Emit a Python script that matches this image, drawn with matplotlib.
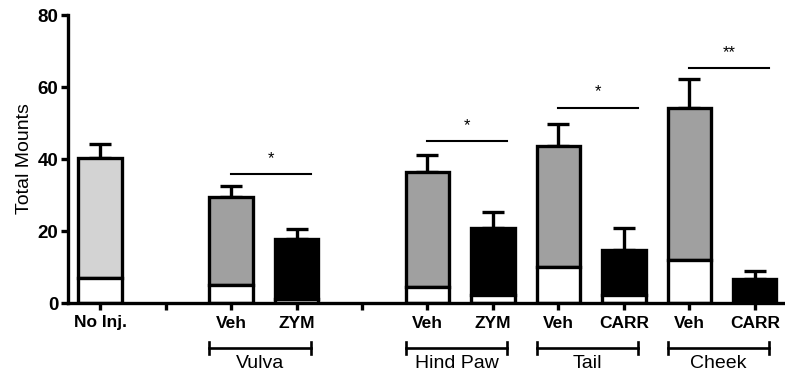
import matplotlib
matplotlib.use("Agg")
import matplotlib.pyplot as plt

plt.rcParams['font.family'] = ['Liberation Sans', 'DejaVu Sans']

# Data
tick_labels = ["No Inj.", "", "Veh", "ZYM", "", "Veh", "ZYM", "Veh", "CARR", "Veh", "CARR"]
bar_slots = [0, 2, 3, 5, 6, 7, 8, 9, 10]
totals = [40.3, 29.4, 17.8, 36.5, 20.8, 43.6, 14.7, 54.2, 6.7]
errors = [3.9, 3.1, 2.8, 4.6, 4.5, 6.1, 6.1, 8.0, 2.2]
white_part = [6.9, 5.0, 1.1, 4.4, 2.2, 10.0, 2.2, 12.0, 0.0]
colors = ["#d3d3d3", "#a0a0a0", "#000000", "#a0a0a0", "#000000",
          "#a0a0a0", "#000000", "#a0a0a0", "#000000"]

groups = ["Vulva", "Hind Paw", "Tail", "Cheek"]
group_slots = [(2, 3), (5, 6), (7, 8), (9, 10)]
sig_labels = ["*", "*", "*", "**"]
sig_heights = [35.8, 45.0, 54.2, 65.3]

fig = plt.figure(figsize=(7.85, 3.75), dpi=100)
ax = fig.add_axes([0.0866, 0.192, 0.9134, 0.768])

w = 0.66
lw = 2.4
for s, t, e, wp, c in zip(bar_slots, totals, errors, white_part, colors):
    ax.errorbar(s, t, yerr=[[0], [e]], fmt='none', ecolor='black',
                elinewidth=2.4, capsize=7.8, capthick=2.4, zorder=1)
    ax.bar(s, t - wp, width=w, bottom=wp, color=c, edgecolor='black',
           linewidth=lw, zorder=2)
    if wp > 0:
        ax.bar(s, wp, width=w, color='white', edgecolor='black',
               linewidth=lw, zorder=2)

# Significance lines
for (a, b), lab, h in zip(group_slots, sig_labels, sig_heights):
    ax.plot([a, b + 0.22], [h, h], color='black', lw=1.5, clip_on=False)
    ax.text((a + b + 0.22) / 2, h + 2.3, lab, ha='center', va='bottom',
            fontsize=12)

# Group brackets below axis
for (a, b), g in zip(group_slots, groups):
    x0, x1 = a - 0.33, b + 0.22
    yb = -12.5
    ax.plot([x0, x1], [yb, yb], color='black', lw=1.9, clip_on=False)
    ax.plot([x0, x0], [yb - 1.7, yb + 1.7], color='black', lw=1.9, clip_on=False)
    ax.plot([x1, x1], [yb - 1.7, yb + 1.7], color='black', lw=1.9, clip_on=False)
    ax.text((x0 + x1) / 2, yb - 2.0, g, ha='center', va='top', fontsize=14)

ax.set_xlim(-0.49, 10.46)
ax.set_ylim(0, 80)
ax.set_xticks(range(len(tick_labels)))
ax.set_xticklabels(tick_labels, fontweight='bold', fontsize=12.5)
ax.set_yticks([0, 20, 40, 60, 80])
ax.set_yticklabels(["0", "20", "40", "60", "80"], fontweight='bold', fontsize=13.5)
ax.set_ylabel("Total Mounts", fontsize=14, labelpad=3)

for sp in ['top', 'right']:
    ax.spines[sp].set_visible(False)
for sp in ['left', 'bottom']:
    ax.spines[sp].set_linewidth(2.4)
ax.tick_params(axis='both', width=2.4, length=5, direction='out')
ax.tick_params(axis='x', pad=4)
ax.tick_params(axis='y', pad=2)

fig.savefig("out.png", dpi=100)
